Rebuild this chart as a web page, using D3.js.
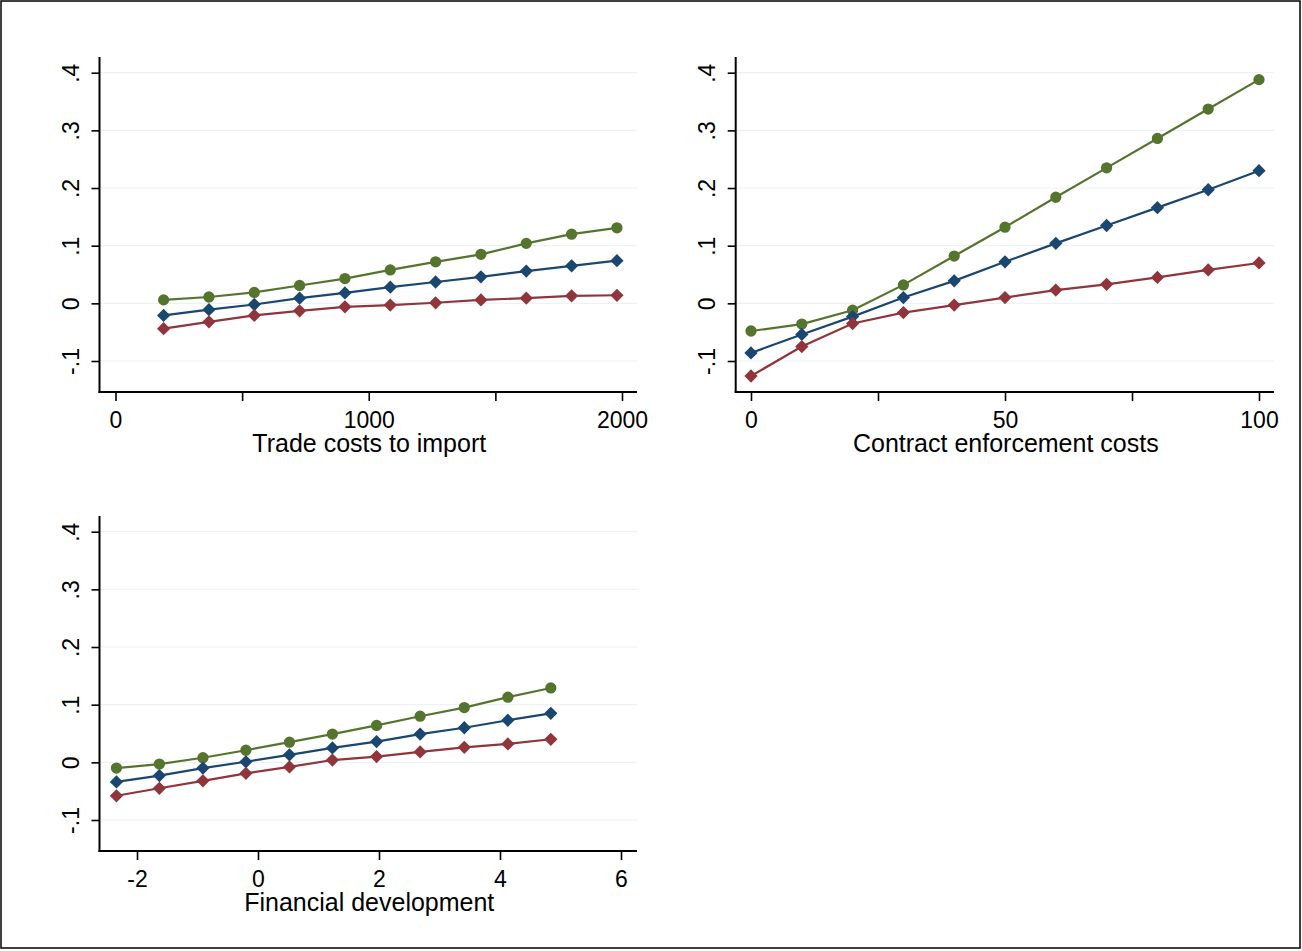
<!DOCTYPE html>
<html>
<head>
<meta charset="utf-8">
<script src="https://cdn.jsdelivr.net/npm/d3@7"></script>
<style>
  html, body { margin: 0; padding: 0; background: #fff; }
  svg { display: block; }
  text { font-family: "Liberation Sans", Arial, sans-serif; fill: #000; }
</style>
</head>
<body>
<svg id="chart" width="1302" height="951"></svg>
<script>
// ---------- data ----------
const yTicks = [-0.1, 0, 0.1, 0.2, 0.3, 0.4];
const yTickLabels = ["-.1", "0", ".1", ".2", ".3", ".4"];

// Panel 1: Trade costs to import
const tradeX     = [190, 369, 548, 727, 906, 1085, 1264, 1443, 1622, 1801, 1980];
const tradeGreen = [0.006, 0.011, 0.019, 0.031, 0.043, 0.058, 0.072, 0.085, 0.104, 0.120, 0.131];
const tradeBlue  = [-0.021, -0.011, -0.002, 0.009, 0.018, 0.028, 0.037, 0.046, 0.056, 0.065, 0.074];
const tradeRed   = [-0.044, -0.032, -0.021, -0.013, -0.006, -0.003, 0.001, 0.006, 0.009, 0.013, 0.014];
const tradeXTicks = [0, 500, 1000, 1500, 2000];
const tradeXLabels = ["0", "", "1000", "", "2000"];

// Panel 2: Contract enforcement costs
const contractX     = [0, 10, 20, 30, 40, 50, 60, 70, 80, 90, 100];
const contractGreen = [-0.048, -0.036, -0.012, 0.032, 0.082, 0.132, 0.184, 0.235, 0.286, 0.337, 0.388];
const contractBlue  = [-0.086, -0.054, -0.023, 0.010, 0.039, 0.072, 0.104, 0.135, 0.166, 0.197, 0.230];
const contractRed   = [-0.126, -0.075, -0.035, -0.016, -0.003, 0.010, 0.023, 0.033, 0.045, 0.058, 0.070];
const contractXTicks = [0, 25, 50, 75, 100];
const contractXLabels = ["0", "", "50", "", "100"];

// Panel 3: Financial development
const finX     = [-2.34, -1.63, -0.91, -0.20, 0.52, 1.23, 1.96, 2.68, 3.41, 4.13, 4.84];
const finGreen = [-0.010, -0.003, 0.008, 0.021, 0.035, 0.049, 0.064, 0.080, 0.095, 0.113, 0.129];
const finBlue  = [-0.034, -0.023, -0.010, 0.001, 0.013, 0.025, 0.036, 0.049, 0.060, 0.073, 0.085];
const finRed   = [-0.058, -0.045, -0.032, -0.019, -0.008, 0.004, 0.010, 0.018, 0.026, 0.032, 0.040];
const finXTicks = [-2, 0, 2, 4, 6];
const finXLabels = ["-2", "0", "2", "4", "6"];

// ---------- styles ----------
const colors = { green: "#55752f", blue: "#1a476f", red: "#90353b" };
const gridColor = "#edf3f5";

const svg = d3.select("#chart");

// outer border
svg.append("rect")
  .attr("x", 1).attr("y", 1).attr("width", 1299).attr("height", 947)
  .attr("fill", "none").attr("stroke", "#000").attr("stroke-width", 1.5);

function drawPanel(cfg) {
  const g = svg.append("g");
  const x = d3.scaleLinear().domain(cfg.xDomain).range(cfg.xRange);
  const y = d3.scaleLinear().domain([-0.1, 0.4]).range([cfg.y0 + 57.7, cfg.y0 - 230.6]);

  // gridlines
  g.selectAll("line.grid").data(yTicks).enter().append("line")
    .attr("x1", cfg.left + 1).attr("x2", cfg.right)
    .attr("y1", d => y(d)).attr("y2", d => y(d))
    .attr("stroke", gridColor).attr("stroke-width", 1.2);

  // y axis
  const yAxis = d3.axisLeft(y).tickValues(yTicks).tickSize(8)
    .tickFormat((d, i) => yTickLabels[i]);
  const ya = g.append("g").attr("transform", `translate(${cfg.left},0)`).call(yAxis);
  ya.select(".domain").remove();
  ya.selectAll(".tick line").attr("stroke", "#000").attr("stroke-width", 1.6);
  ya.selectAll(".tick text")
    .attr("x", null).attr("dy", null)
    .attr("transform", "translate(-21,0) rotate(-90)")
    .attr("text-anchor", "middle")
    .style("font-size", "23px").attr("fill", "#111");

  // x axis
  const xAxis = d3.axisBottom(x).tickValues(cfg.xTicks).tickSize(9)
    .tickFormat((d, i) => cfg.xLabels[i]);
  const xa = g.append("g").attr("transform", `translate(0,${cfg.bottom})`).call(xAxis);
  xa.select(".domain").remove();
  xa.selectAll(".tick line").attr("stroke", "#000").attr("stroke-width", 1.6);
  xa.selectAll(".tick text").attr("y", 36).attr("dy", null)
    .style("font-size", "23px").attr("fill", "#111");

  // axis lines
  g.append("line").attr("x1", cfg.left).attr("x2", cfg.left)
    .attr("y1", cfg.top).attr("y2", cfg.bottom + 1)
    .attr("stroke", "#000").attr("stroke-width", 2);
  g.append("line").attr("x1", cfg.left - 1).attr("x2", cfg.right)
    .attr("y1", cfg.bottom).attr("y2", cfg.bottom)
    .attr("stroke", "#000").attr("stroke-width", 2);

  // axis title
  g.append("text").attr("x", (cfg.left + cfg.right) / 2 + 1).attr("y", cfg.bottom + 60)
    .attr("text-anchor", "middle").style("font-size", "25px").attr("fill", "#111").text(cfg.title);

  // series
  const series = [
    { vals: cfg.green, color: colors.green, sym: d3.symbolCircle, size: 100, rot: 0 },
    { vals: cfg.blue,  color: colors.blue,  sym: d3.symbolSquare, size: 88, rot: 45 },
    { vals: cfg.red,   color: colors.red,   sym: d3.symbolSquare, size: 88, rot: 45 }
  ];
  series.forEach(s => {
    const pts = cfg.xs.map((xv, i) => [xv, s.vals[i]]);
    const line = d3.line().x(d => x(d[0])).y(d => y(d[1]));
    g.append("path").datum(pts).attr("d", line)
      .attr("fill", "none").attr("stroke", s.color).attr("stroke-width", 2.2);
    g.selectAll(null).data(pts).enter().append("path")
      .attr("transform", d => `translate(${x(d[0])},${y(d[1])}) rotate(${s.rot})`)
      .attr("d", d3.symbol().type(s.sym).size(s.size))
      .attr("fill", s.color);
  });
}

drawPanel({
  xDomain: [0, 2000], xRange: [115.5, 622],
  left: 99.5, right: 637, top: 57, bottom: 392, y0: 303.3,
  xTicks: tradeXTicks, xLabels: tradeXLabels, title: "Trade costs to import",
  xs: tradeX, green: tradeGreen, blue: tradeBlue, red: tradeRed
});
drawPanel({
  xDomain: [0, 100], xRange: [751, 1259],
  left: 735.7, right: 1274, top: 57, bottom: 392, y0: 303.3,
  xTicks: contractXTicks, xLabels: contractXLabels, title: "Contract enforcement costs",
  xs: contractX, green: contractGreen, blue: contractBlue, red: contractRed
});
drawPanel({
  xDomain: [-2, 6], xRange: [137, 621],
  left: 99.5, right: 637, top: 516, bottom: 851, y0: 762.3,
  xTicks: finXTicks, xLabels: finXLabels, title: "Financial development",
  xs: finX, green: finGreen, blue: finBlue, red: finRed
});
</script>
</body>
</html>
